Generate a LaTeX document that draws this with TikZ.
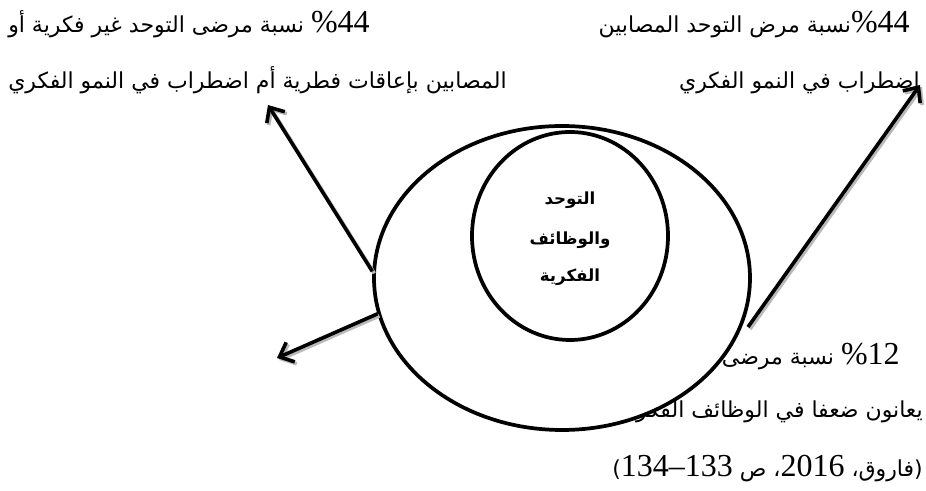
\documentclass[tikz,border=0pt]{standalone}
\usepackage{fontspec}
\usetikzlibrary{arrows.meta,shapes.geometric}
\TeXXeTstate=1
\setmainfont{Liberation Serif}
\newfontfamily\arabicfont[Script=Arabic]{DejaVu Sans}
\newfontfamily\latinfont{Liberation Serif}
\newcommand\numtxt[1]{{\latinfont\fontsize{24}{24}\selectfont\beginL#1\endL}}
\newcommand\pcnt{{\latinfont\fontsize{24}{24}\selectfont\%}}
\begin{document}
\begin{tikzpicture}[x=0.75pt,y=-0.75pt,
  lbl/.style={inner sep=0pt, font=\arabicfont\fontsize{16.5}{19}\selectfont},
  core/.style={inner sep=0pt, font=\arabicfont\bfseries\fontsize{12.5}{14}\selectfont},
  ring/.style={draw=black, line width=2.8pt, fill=white, inner sep=0pt},
  arr/.style={line width=2.7pt, -{Straight Barb[length=9pt,width=16pt]}},
  shadowarr/.style={arr, draw=gray!55}]
\useasboundingbox (0,0) rectangle (926,491);
% texts
\node[lbl, anchor=base west] (tl1) at (8,33) {\beginR\numtxt{44}\pcnt{} نسبة مرضى التوحد غير فكرية أو\endR};
\node[lbl, anchor=base west] (tl2) at (8,89) {\beginR المصابين بإعاقات فطرية أم اضطراب في النمو الفكري\endR};
\node[lbl, anchor=base east] (tr1) at (910,33) {\beginR\numtxt{44}\pcnt{}نسبة مرض التوحد المصابين\endR};
\node[lbl, anchor=base east] (tr2) at (920,89) {\beginR اضطراب في النمو الفكري\endR};
\node[lbl, anchor=base east] (b1) at (900,365) {\beginR\numtxt{12}\pcnt{} نسبة مرضى\endR};
\node[lbl, anchor=base east] (b2) at (923,418) {\beginR يعانون ضعفا في الوظائف الفكرية\endR};
\node[lbl, anchor=base east] (b3) at (923,477) {\beginR(فاروق، \numtxt{2016}، ص \numtxt{134–133})\endR};
% circles
\node[ring, ellipse, minimum width=282pt, minimum height=228pt] (outer) at (562,278) {};
\node[ring, ellipse, minimum width=147pt, minimum height=156pt] (inner) at (570,236) {};
\node[core] (c1) at (570,200) {\beginR التوحد\endR};
\node[core] (c2) at (570,240) {\beginR والوظائف\endR};
\node[core] (c3) at (570,277) {\beginR الفكرية\endR};
% arrow end points
\coordinate (ulTip) at (268,105);
\coordinate (llTip) at (277,358);
\coordinate (urTip) at (920,85);
\coordinate (urStart) at (748,327);
% shadows
\begin{scope}[transform canvas={shift={(1.5pt,-1.5pt)}}]
\draw[shadowarr] (outer.178) -- (ulTip);
\draw[shadowarr] (outer.191) -- (llTip);
\draw[shadowarr] (urStart) -- (urTip);
\end{scope}
\draw[arr] (outer.178) -- (ulTip);
\draw[arr] (outer.191) -- (llTip);
\draw[arr] (urStart) -- (urTip);
\end{tikzpicture}
\end{document}
